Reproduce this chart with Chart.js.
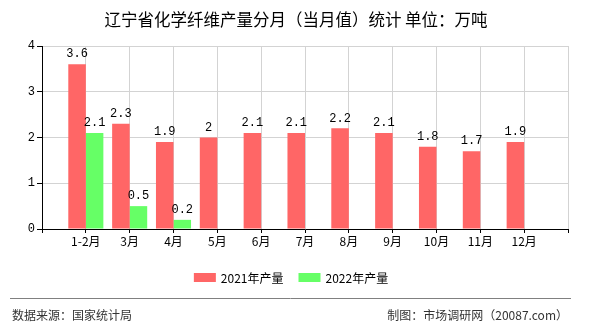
<!DOCTYPE html>
<html>
<head>
<meta charset="utf-8">
<script src="https://cdn.jsdelivr.net/npm/chart.js@4/dist/chart.umd.min.js"></script>
<style>
  html, body { margin: 0; padding: 0; background: #fff; }
</style>
</head>
<body>
<canvas id="chart" width="590" height="330"></canvas>
<script>
const months = ['1-2月', '3月', '4月', '5月', '6月', '7月', '8月', '9月', '10月', '11月', '12月'];
const output2021 = [3.6, 2.3, 1.9, 2, 2.1, 2.1, 2.2, 2.1, 1.8, 1.7, 1.9];
const output2022 = [2.1, 0.5, 0.2, null, null, null, null, null, null, null, null];
const yTicks = [0, 1, 2, 3, 4];

const TITLE = '辽宁省化学纤维产量分月（当月值）统计 单位：万吨';
const SOURCE = '数据来源：国家统计局';
const CREDIT = '制图：市场调研网（20087.com）';

const CJK = '"Noto Sans CJK SC", sans-serif';
const MONO = '"Liberation Mono", monospace';

// empty slot on each side so the months sit on the ticks, not between them
const pad = arr => [null, ...arr, null];

// title, value labels, legend and footer
const decorations = {
    id: 'decorations',
    afterDatasetsDraw(chart) {
        const ctx = chart.ctx;
        ctx.save();
        ctx.fillStyle = '#000';
        ctx.font = '12px ' + MONO;
        ctx.textAlign = 'center';
        ctx.textBaseline = 'bottom';
        chart.data.datasets.forEach((ds, i) => {
            chart.getDatasetMeta(i).data.forEach((bar, j) => {
                const v = ds.data[j];
                if (v === null || v === undefined) return;
                ctx.fillText(String(v), bar.x, bar.y - 4);
            });
        });
        ctx.restore();
    },
    afterDraw(chart) {
        const ctx = chart.ctx;
        ctx.save();

        ctx.fillStyle = '#000';
        ctx.font = '16.5px ' + CJK;
        ctx.textAlign = 'center';
        ctx.textBaseline = 'middle';
        ctx.fillText(TITLE, 296, 20);

        // legend
        ctx.font = '12px ' + CJK;
        ctx.textAlign = 'left';
        const items = chart.data.datasets.map(ds => ({
            label: ds.label,
            color: ds.backgroundColor,
            w: 22 + 5 + ctx.measureText(ds.label).width
        }));
        const gap = 15;
        const total = items.reduce((a, it) => a + it.w, 0) + gap * (items.length - 1);
        let x = 291 - total / 2;
        items.forEach(it => {
            ctx.fillStyle = it.color;
            ctx.fillRect(x, 273, 22, 9);
            ctx.fillStyle = '#000';
            ctx.fillText(it.label, x + 27, 278);
            x += it.w + gap;
        });

        // footer
        ctx.strokeStyle = '#808080';
        ctx.lineWidth = 1;
        ctx.beginPath();
        ctx.moveTo(10, 298.5);
        ctx.lineTo(571, 298.5);
        ctx.stroke();

        ctx.fillStyle = '#333';
        ctx.font = '12px ' + CJK;
        ctx.textAlign = 'left';
        ctx.fillText(SOURCE, 12, 315);
        ctx.textAlign = 'right';
        ctx.fillText(CREDIT, 568, 315);

        ctx.restore();
    }
};

new Chart(document.getElementById('chart'), {
    type: 'bar',
    data: {
        labels: ['', ...months, ''],
        datasets: [{
            label: '2021年产量',
            data: pad(output2021),
            backgroundColor: '#ff6666'
        }, {
            label: '2022年产量',
            data: pad(output2022),
            backgroundColor: '#66ff66'
        }]
    },
    options: {
        responsive: false,
        devicePixelRatio: 1,
        animation: false,
        categoryPercentage: 0.8,
        barPercentage: 1,
        layout: {
            padding: {top: 46, right: 22, bottom: 0, left: 0}
        },
        plugins: {
            legend: {display: false},
            title: {display: false},
            tooltip: {enabled: false}
        },
        scales: {
            x: {
                type: 'category',
                offset: false,
                grid: {
                    offset: false,
                    color: '#d3d3d3',
                    tickColor: '#000',
                    tickLength: 4
                },
                border: {color: '#000'},
                ticks: {
                    color: '#000',
                    font: {family: CJK, size: 12},
                    padding: 1,
                    maxRotation: 0,
                    autoSkip: false
                },
                afterFit: s => { s.height = 101; }
            },
            y: {
                min: yTicks[0],
                max: yTicks[yTicks.length - 1],
                afterBuildTicks: s => { s.ticks = yTicks.map(v => ({value: v})); },
                grid: {
                    color: '#d3d3d3',
                    tickColor: '#000',
                    tickLength: 5
                },
                border: {color: '#000'},
                ticks: {
                    color: '#000',
                    font: {family: MONO, size: 12},
                    padding: 2
                },
                afterFit: s => { s.width = 42; }
            }
        }
    },
    plugins: [decorations]
});
</script>
</body>
</html>
